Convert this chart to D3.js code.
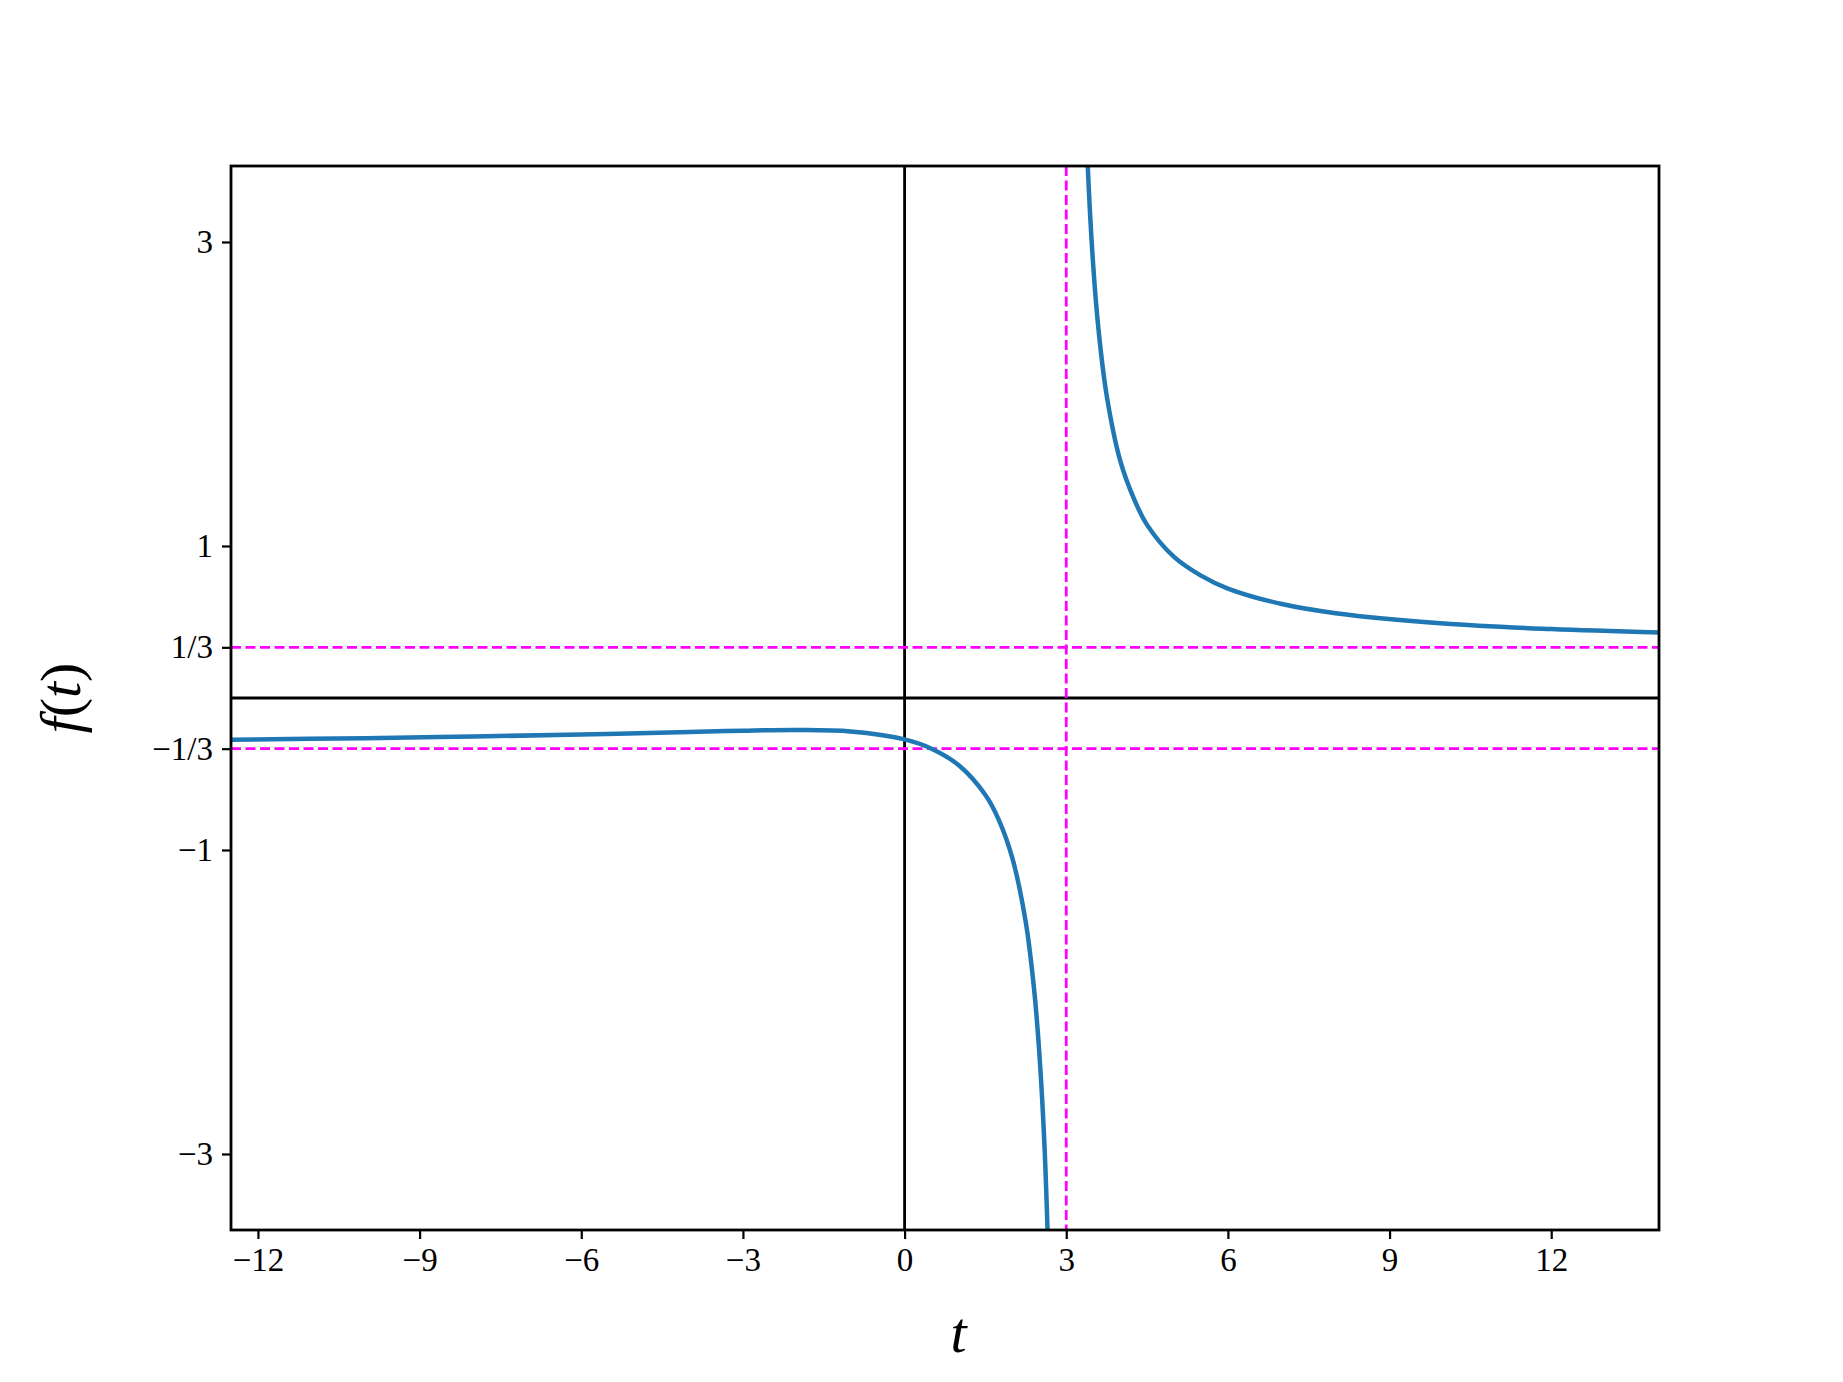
<!DOCTYPE html>
<html><head><meta charset="utf-8">
<script src="https://cdn.jsdelivr.net/npm/d3@7"></script>
<style>body{margin:0;background:#fff}</style>
</head><body>
<svg id="c" width="1843" height="1382"></svg>
<script>
const leftT = [-12.5,-10,-8,-6,-4,-3,-2,-1,0,0.5,1,1.5,1.75,2,2.25,2.4,2.5,2.6,2.7];
const leftF = [-0.274,-0.264,-0.2535,-0.240,-0.2234,-0.2152,-0.2108,-0.2205,-0.2722,-0.3333,-0.441,-0.638,-0.803,-1.054,-1.478,-1.905,-2.333,-2.977,-4.05];
const rightT = [3.3,3.4,3.5,3.6,3.75,4,4.25,4.5,5,5.5,6,7,8,10,12,14];
const rightF = [4.567,3.492,2.848,2.419,1.991,1.563,1.316,1.139,0.928,0.805,0.720,0.618,0.558,0.490,0.4536,0.4307];
const xTicks = [-12,-9,-6,-3,0,3,6,9,12];
const yTicks = [3,1,1/3,-1/3,-1,-3];
const yTickLabels = ["3","1","1/3","\u22121/3","\u22121","\u22123"];
const vAsym = [3], hAsym = [1/3,-1/3];

const L=231,R=1659,T=166,B=1230;
const svg=d3.select("#c");
const x=d3.scaleLinear().domain([-12.5,14]).range([L,R]);
const y=d3.scaleLinear().domain([-3.5,3.5]).range([B,T]);
const font="'Liberation Serif','DejaVu Serif',serif";
svg.append("clipPath").attr("id","cp").append("rect").attr("x",L).attr("y",T).attr("width",R-L).attr("height",B-T);
const g=svg.append("g").attr("clip-path","url(#cp)");
g.append("line").attr("x1",x(0)).attr("x2",x(0)).attr("y1",T).attr("y2",B).attr("stroke","#000").attr("stroke-width",2.8);
g.append("line").attr("x1",L).attr("x2",R).attr("y1",y(0)).attr("y2",y(0)).attr("stroke","#000").attr("stroke-width",2.8);
vAsym.forEach(v=>g.append("line").attr("x1",x(v)).attr("x2",x(v)).attr("y1",T).attr("y2",B).attr("stroke","#ff00ff").attr("stroke-width",2.8).attr("stroke-dasharray","10,4.5"));
hAsym.forEach(v=>g.append("line").attr("x1",L).attr("x2",R).attr("y1",y(v)).attr("y2",y(v)).attr("stroke","#ff00ff").attr("stroke-width",2.8).attr("stroke-dasharray","10,4.5"));
const line=d3.line().x(d=>x(d[0])).y(d=>y(d[1])).curve(d3.curveCatmullRom);
[[leftT,leftF],[rightT,rightF]].forEach(([t,f])=>{
  g.append("path").datum(t.map((v,i)=>[v,f[i]])).attr("d",line).attr("fill","none").attr("stroke","#1f77b4").attr("stroke-width",4.5);
});
const xa=svg.append("g").attr("transform",`translate(0,${B})`).call(d3.axisBottom(x).tickValues(xTicks).tickSize(9).tickPadding(9).tickFormat(d=>d<0?"\u2212"+(-d):d));
const ya=svg.append("g").attr("transform",`translate(${L},0)`).call(d3.axisLeft(y).tickValues(yTicks).tickSize(9).tickPadding(9).tickFormat((d,i)=>yTickLabels[i]));
[xa,ya].forEach(a=>{a.select(".domain").remove();a.selectAll("line").attr("stroke-width",2.2);a.selectAll("text").attr("font-family",font).attr("font-size",33).attr("fill","#000");});
svg.append("rect").attr("x",L).attr("y",T).attr("width",R-L).attr("height",B-T).attr("fill","none").attr("stroke","#000").attr("stroke-width",2.8);
svg.append("text").attr("x",x(1)).attr("y",1352).attr("text-anchor","middle").attr("font-family",font).attr("font-style","italic").attr("font-size",58).text("t");
svg.append("text").attr("transform",`translate(80,${y(0)}) rotate(-90)`).attr("text-anchor","middle").attr("font-family",font).attr("font-size",58).html('<tspan font-style="italic">f</tspan>(<tspan font-style="italic">t</tspan>)');
</script>
</body></html>
